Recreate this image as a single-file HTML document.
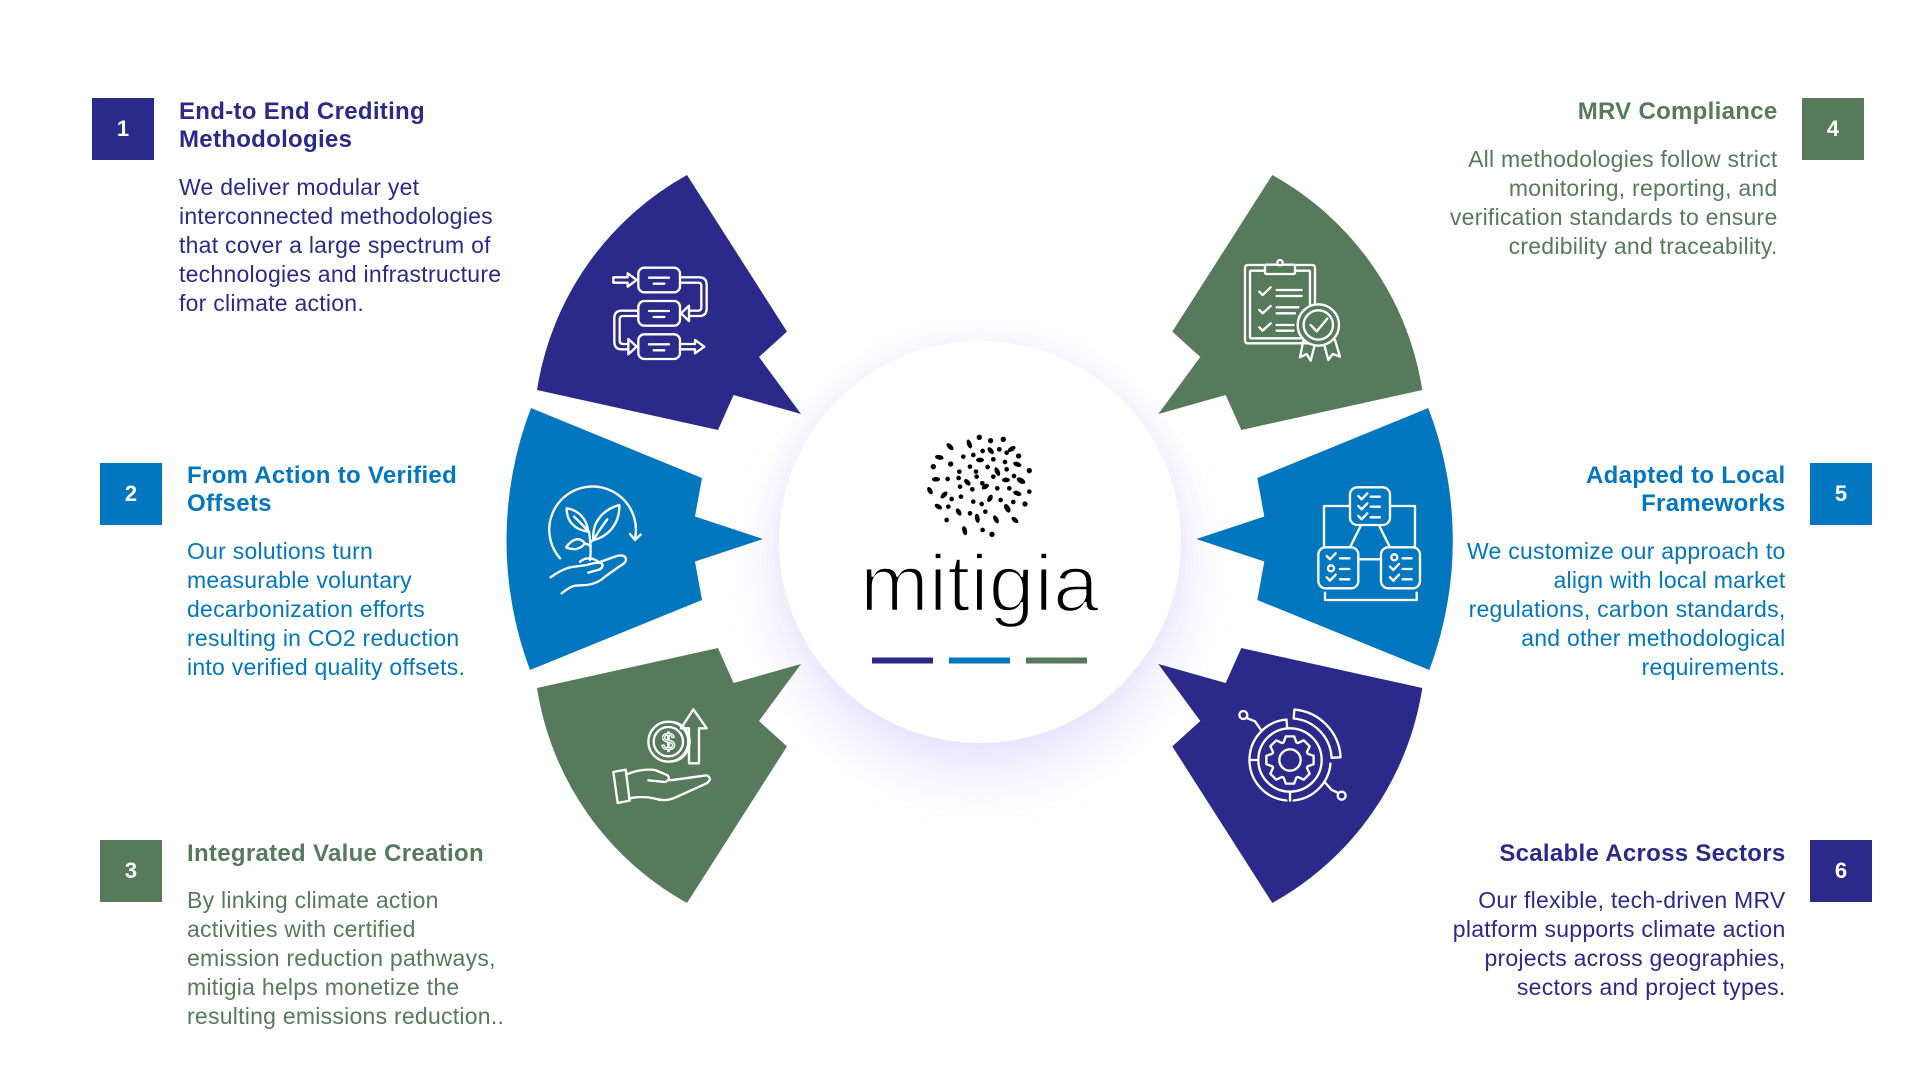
<!DOCTYPE html>
<html>
<head>
<meta charset="utf-8">
<style>
  html,body{margin:0;padding:0;background:#fff;}
  body{width:1920px;height:1080px;position:relative;overflow:hidden;font-family:"Liberation Sans",Arial,sans-serif;}
  .box{position:absolute;width:62px;height:62px;color:#fff;font-weight:bold;font-size:22px;display:flex;align-items:center;justify-content:center;}
  .t{position:absolute;font-weight:bold;font-size:24px;line-height:28px;letter-spacing:0.3px;white-space:nowrap;}
  .b{position:absolute;font-size:23px;line-height:29px;letter-spacing:0.25px;white-space:nowrap;}
  .r{text-align:right;}
  .navy{color:#2B2A8B;} .blue{color:#0277BF;} .green{color:#567A5B;}
  .circle{position:absolute;left:779px;top:341px;width:402px;height:402px;border-radius:50%;background:#fff;
    box-shadow:0 30px 60px rgba(110,95,235,0.16),0 0 30px rgba(110,95,235,0.07);}
  svg.main{position:absolute;left:0;top:0;}
</style>
</head>
<body>

<div class="circle"></div>

<svg class="main" width="1920" height="1080" viewBox="0 0 1920 1080" xmlns="http://www.w3.org/2000/svg">
  <!-- Petals -->
  <path fill="#2B2A8B" d="M537 390 A298 298 0 0 1 687 175 L787 331.6 L759 357 L801 414 L733.6 395 L718 430 Z"/>
  <path fill="#0277BF" d="M531 408 L702 478 L695 516.5 L763 539 L695 561.5 L702 600 L530 670 A369.5 369.5 0 0 1 531 408 Z"/>
  <g transform="translate(0 1078) scale(1 -1)">
    <path fill="#567A5B" d="M537 390 A298 298 0 0 1 687 175 L787 331.6 L759 357 L801 414 L733.6 395 L718 430 Z"/>
  </g>
  <g transform="translate(1959.3 0) scale(-1 1)">
    <path fill="#567A5B" d="M537 390 A298 298 0 0 1 687 175 L787 331.6 L759 357 L801 414 L733.6 395 L718 430 Z"/>
    <path fill="#0277BF" d="M531 408 L702 478 L695 516.5 L763 539 L695 561.5 L702 600 L530 670 A369.5 369.5 0 0 1 531 408 Z"/>
  </g>
  <g transform="translate(1959.3 1078) scale(-1 -1)">
    <path fill="#2B2A8B" d="M537 390 A298 298 0 0 1 687 175 L787 331.6 L759 357 L801 414 L733.6 395 L718 430 Z"/>
  </g>

  <!-- Icon 1: flow -->
  <g transform="translate(605 255) scale(0.3333)" fill="none" stroke="#fff" stroke-width="7" stroke-linejoin="round" stroke-linecap="round">
    <rect x="100" y="38" width="125" height="74" rx="18"/>
    <rect x="100" y="138" width="125" height="74" rx="18"/>
    <rect x="100" y="238" width="125" height="74" rx="18"/>
    <path d="M132 68H192M146 86H178M132 168H192M146 186H178M132 268H192M146 286H178"/>
    <path d="M25 67H68V55L95 75L68 95V83H25Z"/>
    <path d="M225 67H282Q305 67 305 90V160Q305 183 282 183H252"/>
    <path d="M225 83H280Q289 83 289 92V158Q289 167 280 167H252"/>
    <path d="M252 152L228 175L252 198Z"/>
    <path d="M100 167H50Q28 167 28 190V260Q28 283 50 283H70"/>
    <path d="M100 183H54Q44 183 44 193V257Q44 267 54 267H70"/>
    <path d="M70 252L95 275L70 298Z"/>
    <path d="M225 267H270V255L298 275L270 295V283H225"/>
  </g>

  <!-- Icon 2: plant in hand -->
  <g transform="translate(520 460) scale(0.3333)" fill="none" stroke="#fff" stroke-width="7" stroke-linejoin="round" stroke-linecap="round">
    <path d="M120 295A130 130 0 1 1 345 236"/>
    <path d="M330 222L345 240L362 224"/>
    <path d="M205 215C200 175 175 150 140 145C140 185 165 210 205 215Z"/>
    <path d="M203 212Q182 188 162 170"/>
    <path d="M220 240C215 190 245 150 298 135C300 190 265 230 220 240Z"/>
    <path d="M225 232Q245 200 262 178"/>
    <path d="M195 250C180 232 160 232 138 262C160 272 182 268 195 250Z"/>
    <path d="M210 300Q215 265 207 215"/>
    <path d="M212 258Q202 252 195 250M213 246Q218 242 222 238"/>
    <path d="M180 305Q205 285 235 305"/>
    <path d="M92 352Q120 330 150 322L200 315Q235 305 245 310Q252 320 240 328L205 338"/>
    <path d="M235 308L290 288Q318 282 318 300Q316 310 300 318L255 350Q235 370 200 375L165 377Q150 380 125 400"/>
  </g>

  <!-- Icon 3: money hand -->
  <g transform="translate(605 700) scale(0.3333)" fill="none" stroke="#fff" stroke-width="7" stroke-linejoin="round" stroke-linecap="round">
    <circle cx="190" cy="125" r="60"/>
    <circle cx="190" cy="125" r="44"/>
    <path d="M205 66A60 60 0 0 1 205 184"/>
    <text x="190" y="150" font-family="Liberation Sans, sans-serif" font-size="72" text-anchor="middle" stroke-width="4">$</text>
    <path d="M265 28L305 85H282V190H252V85H228Z"/>
    <path d="M25 216L62 209L74 302L38 309Z"/>
    <path d="M68 222Q110 205 150 210L188 226Q198 240 180 246L130 241"/>
    <path d="M72 296Q110 286 150 296Q180 306 210 293L305 250Q324 236 305 226L196 241"/>
  </g>

  <!-- Icon 4: clipboard with rosette -->
  <g transform="translate(1240 250) scale(0.3333)" fill="none" stroke="#fff" stroke-width="7" stroke-linejoin="round" stroke-linecap="round">
    <rect x="15" y="45" width="210" height="235" rx="8"/>
    <rect x="30" y="62" width="180" height="203" rx="3"/>
    <rect x="75" y="44" width="90" height="28" rx="4" fill="#567A5B"/>
    <circle cx="120" cy="38" r="8" fill="#567A5B"/>
    <path d="M58 125L68 135L92 112M58 180L68 190L92 168M58 232L68 242L92 220"/>
    <path d="M110 120H185M110 138H185M110 172H175M110 190H165M110 225H160M110 242H160"/>
    <path d="M190 272L180 322L200 312L212 332L225 282"/>
    <path d="M252 282L265 330L278 312L300 320L285 270"/>
    <circle cx="235" cy="225" r="62" fill="#567A5B"/>
    <circle cx="235" cy="225" r="44"/>
    <path d="M212 225L230 244L262 206"/>
  </g>

  <!-- Icon 5: frameworks -->
  <g transform="translate(1300 470) scale(0.3333)" fill="none" stroke="#fff" stroke-width="7" stroke-linejoin="round" stroke-linecap="round">
    <rect x="150" y="52" width="120" height="113" rx="22"/>
    <rect x="55" y="232" width="120" height="123" rx="22"/>
    <rect x="243" y="232" width="117" height="123" rx="22"/>
    <path d="M175 78L185 88L202 70M175 108L185 118L202 100M175 138L185 148L202 130"/>
    <path d="M212 80H240M212 110H240M212 142H240"/>
    <path d="M80 258L90 268L107 250M80 322L90 332L107 314"/>
    <circle cx="93" cy="295" r="9"/>
    <path d="M120 265H148M120 297H148M120 328H148"/>
    <circle cx="283" cy="262" r="9"/>
    <path d="M270 290L280 300L297 282M270 322L280 332L297 314"/>
    <path d="M308 265H335M308 297H335M308 328H335"/>
    <path d="M182 168L150 232M238 168L270 232M175 268H243"/>
    <path d="M148 108H72V232M272 108H345V232"/>
    <path d="M75 368V390H350V368"/>
  </g>

  <!-- Icon 6: gear ring -->
  <g transform="translate(1235 700) scale(0.3333)" fill="none" stroke="#fff" stroke-width="7" stroke-linejoin="round" stroke-linecap="round">
    <polygon points="217.6,160.8 235.9,167.5 235.9,192.5 217.6,199.2 215.8,203.7 224,221.3 206.3,239 188.7,230.8 184.2,232.6 177.5,250.9 152.5,250.9 145.8,232.6 141.3,230.8 123.7,239 106,221.3 114.2,203.7 112.4,199.2 94.1,192.5 94.1,167.5 112.4,160.8 114.2,156.3 106,138.7 123.7,121 141.3,129.2 145.8,127.4 152.5,109.1 177.5,109.1 184.2,127.4 188.7,129.2 206.3,121 224,138.7 215.8,156.3"/>
    <circle cx="165" cy="180" r="32"/>
    <circle cx="165" cy="180" r="95"/>
    <path d="M154.4 301.5A122 122 0 0 1 154.4 58.5L156.7 85.4"/>
    <path d="M286.5 190.6A122 122 0 0 1 175.6 301.5"/>
    <path d="M43 180H70M165 275V302"/>
    <path d="M178.2 28.6A152 152 0 0 1 316.8 172L289.8 173.5A125 125 0 0 0 175.9 55.5Z"/>
    <circle cx="25" cy="45" r="12"/>
    <path d="M35 54L60 64L78 90"/>
    <circle cx="320" cy="287" r="12"/>
    <path d="M310 279L290 270L268 245"/>
  </g>

  <!-- Logo dots -->
  <g transform="translate(760 320) scale(0.3333)" fill="#000">
    <circle cx="658" cy="352" r="8"/><ellipse cx="628" cy="372" rx="14" ry="7" transform="rotate(70 628 372)"/>
    <circle cx="692" cy="362" r="8"/><circle cx="730" cy="358" r="8"/>
    <ellipse cx="570" cy="380" rx="13" ry="7" transform="rotate(45 570 380)"/>
    <ellipse cx="755" cy="387" rx="13" ry="7" transform="rotate(-30 755 387)"/>
    <ellipse cx="538" cy="412" rx="13" ry="7" transform="rotate(10 538 412)"/>
    <circle cx="610" cy="410" r="7"/><circle cx="640" cy="405" r="7"/><circle cx="668" cy="393" r="7"/>
    <ellipse cx="692" cy="392" rx="12" ry="7" transform="rotate(50 692 392)"/>
    <circle cx="718" cy="388" r="7"/><circle cx="740" cy="398" r="7"/><circle cx="776" cy="408" r="8"/>
    <circle cx="520" cy="440" r="8"/><circle cx="572" cy="432" r="8"/><circle cx="630" cy="440" r="7"/>
    <ellipse cx="660" cy="420" rx="12" ry="7"/>
    <circle cx="700" cy="418" r="7"/><circle cx="735" cy="426" r="7"/>
    <ellipse cx="772" cy="433" rx="13" ry="7" transform="rotate(20 772 433)"/>
    <circle cx="598" cy="455" r="7"/><circle cx="648" cy="455" r="7"/><circle cx="683" cy="441" r="7"/>
    <ellipse cx="712" cy="455" rx="14" ry="7" transform="rotate(65 712 455)"/>
    <circle cx="740" cy="448" r="7"/><circle cx="808" cy="452" r="8"/>
    <ellipse cx="528" cy="478" rx="12" ry="7"/>
    <circle cx="563" cy="477" r="7"/><circle cx="596" cy="474" r="7"/>
    <ellipse cx="622" cy="487" rx="12" ry="7" transform="rotate(45 622 487)"/>
    <circle cx="650" cy="470" r="7"/><circle cx="667" cy="490" r="7"/><circle cx="700" cy="470" r="7"/>
    <ellipse cx="738" cy="480" rx="12" ry="7"/>
    <ellipse cx="783" cy="482" rx="14" ry="8" transform="rotate(30 783 482)"/>
    <circle cx="762" cy="468" r="7"/>
    <ellipse cx="510" cy="512" rx="12" ry="7" transform="rotate(60 510 512)"/>
    <ellipse cx="552" cy="525" rx="13" ry="7" transform="rotate(-45 552 525)"/>
    <circle cx="600" cy="500" r="7"/><circle cx="637" cy="508" r="7"/>
    <ellipse cx="676" cy="500" rx="12" ry="7" transform="rotate(-30 676 500)"/>
    <circle cx="712" cy="505" r="7"/><circle cx="748" cy="505" r="7"/>
    <ellipse cx="772" cy="520" rx="13" ry="7" transform="rotate(20 772 520)"/>
    <circle cx="808" cy="515" r="7"/><circle cx="575" cy="537" r="7"/>
    <ellipse cx="535" cy="560" rx="12" ry="7" transform="rotate(30 535 560)"/>
    <circle cx="565" cy="560" r="7"/><circle cx="603" cy="530" r="7"/><circle cx="640" cy="545" r="7"/>
    <circle cx="665" cy="552" r="7"/>
    <ellipse cx="690" cy="535" rx="12" ry="7" transform="rotate(-60 690 535)"/>
    <circle cx="722" cy="540" r="7"/><circle cx="760" cy="546" r="7"/><circle cx="795" cy="552" r="8"/>
    <ellipse cx="742" cy="565" rx="14" ry="8" transform="rotate(60 742 565)"/>
    <circle cx="560" cy="600" r="7"/>
    <ellipse cx="596" cy="576" rx="12" ry="7" transform="rotate(60 596 576)"/>
    <circle cx="630" cy="580" r="7"/>
    <ellipse cx="652" cy="595" rx="14" ry="7" transform="rotate(80 652 595)"/>
    <circle cx="676" cy="575" r="7"/>
    <ellipse cx="708" cy="598" rx="13" ry="7" transform="rotate(60 708 598)"/>
    <ellipse cx="765" cy="600" rx="12" ry="7" transform="rotate(40 765 600)"/>
    <ellipse cx="614" cy="632" rx="14" ry="7" transform="rotate(75 614 632)"/>
    <circle cx="668" cy="630" r="7"/><circle cx="696" cy="643" r="8"/>
  </g>

  <!-- Logo word -->
  <text x="860" y="611" font-family="Liberation Sans, sans-serif" font-size="81" fill="#000" stroke="#fff" stroke-width="2.4" textLength="239" lengthAdjust="spacingAndGlyphs">mitigia</text>

  <!-- Dashes -->
  <rect x="872" y="657.5" width="61" height="6" fill="#2B2A8B"/>
  <rect x="949" y="657.5" width="61" height="6" fill="#0277BF"/>
  <rect x="1026" y="657.5" width="61" height="6" fill="#567A5B"/>
</svg>

<!-- Left column -->
<div class="box" style="left:92px;top:98px;background:#2B2A8B;">1</div>
<div class="t navy" style="left:179px;top:98px;">End-to End Crediting<br>Methodologies</div>
<div class="b navy" style="left:179px;top:172.5px;">We deliver modular yet<br>interconnected methodologies<br>that cover a large spectrum of<br>technologies and infrastructure<br>for climate action.</div>

<div class="box" style="left:100px;top:463px;background:#0277BF;">2</div>
<div class="t blue" style="left:187px;top:462px;">From Action to Verified<br>Offsets</div>
<div class="b blue" style="left:187px;top:536.5px;">Our solutions turn<br>measurable voluntary<br>decarbonization efforts<br>resulting in CO2 reduction<br>into verified quality offsets.</div>

<div class="box" style="left:100px;top:840px;background:#567A5B;">3</div>
<div class="t green" style="left:187px;top:840px;">Integrated Value Creation</div>
<div class="b green" style="left:187px;top:886px;">By linking climate action<br>activities with certified<br>emission reduction pathways,<br>mitigia helps monetize the<br>resulting emissions reduction..</div>

<!-- Right column -->
<div class="box" style="left:1802px;top:98px;background:#567A5B;">4</div>
<div class="t green r" style="right:142.5px;top:98px;">MRV Compliance</div>
<div class="b green r" style="right:142.5px;top:144.5px;">All methodologies follow strict<br>monitoring, reporting, and<br>verification standards to ensure<br>credibility and traceability.</div>

<div class="box" style="left:1810px;top:463px;background:#0277BF;">5</div>
<div class="t blue r" style="right:134.5px;top:462px;">Adapted to Local<br>Frameworks</div>
<div class="b blue r" style="right:134.5px;top:536.5px;">We customize our approach to<br>align with local market<br>regulations, carbon standards,<br>and other methodological<br>requirements.</div>

<div class="box" style="left:1810px;top:840px;background:#2B2A8B;">6</div>
<div class="t navy r" style="right:134.5px;top:840px;">Scalable Across Sectors</div>
<div class="b navy r" style="right:134.5px;top:886px;">Our flexible, tech-driven MRV<br>platform supports climate action<br>projects across geographies,<br>sectors and project types.</div>

</body>
</html>
